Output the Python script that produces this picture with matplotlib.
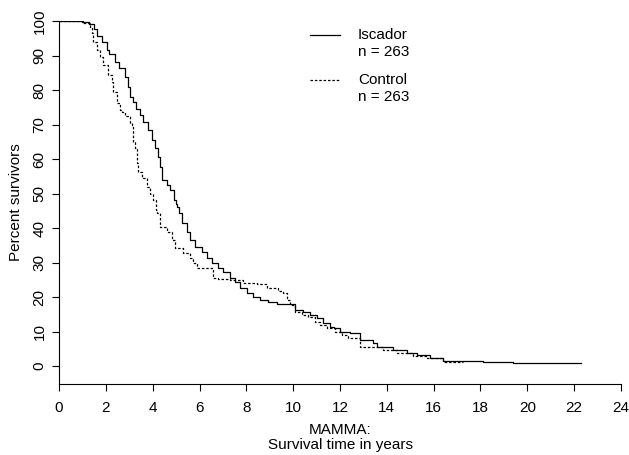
import matplotlib
matplotlib.use("Agg")
import matplotlib.pyplot as plt

plt.rcParams['font.family'] = ['Liberation Sans', 'DejaVu Sans']

# Kaplan-Meier Schätzwerte (Zeit in Jahren, Prozent Überlebende)
isc_t = [0, 1.0, 1.3, 1.5, 1.64, 1.82, 2.03, 2.15, 2.39, 2.58, 2.82, 2.96, 3.03,
         3.15, 3.3, 3.46, 3.6, 3.81, 3.96, 4.1, 4.24, 4.31, 4.38, 4.6, 4.74, 4.91,
         5.0, 5.05, 5.14, 5.24, 5.45, 5.59, 5.81, 6.09, 6.31, 6.52, 6.8, 7.02, 7.3,
         7.51, 7.73, 8.01, 8.3, 8.58, 8.94, 9.3, 10.08, 10.43, 10.72, 11.0, 11.29,
         11.57, 11.75, 12.0, 12.43, 12.85, 13.42, 13.57, 14.28, 14.85, 15.27, 15.84,
         16.41, 18.1, 19.4, 22.3]
isc_s = [100, 99.6, 99.2, 97.7, 95.6, 93.8, 91.6, 90.3, 88.2, 86.3, 83.9, 81.0, 78.0,
         76.5, 74.5, 72.8, 70.8, 68.4, 65.5, 63.1, 60.7, 57.8, 53.9, 52.5, 51.0, 48.1,
         47.1, 46.2, 44.3, 41.4, 38.9, 36.5, 34.6, 33.1, 31.2, 29.8, 28.3, 27.4, 25.4,
         24.5, 22.5, 21.1, 20.1, 19.1, 18.5, 18.0, 16.2, 15.7, 14.8, 13.8, 12.4,
         11.4, 10.9, 9.9, 9.5, 7.5, 6.8, 5.6, 4.6, 3.7, 3.2, 2.2,
         1.5, 1.1, 0.8, 0.8]

ctl_t = [0, 1.03, 1.32, 1.39, 1.47, 1.61, 1.75, 1.89, 2.1, 2.25, 2.32, 2.46, 2.6,
         2.68, 2.82, 3.03, 3.1, 3.14, 3.25, 3.32, 3.39, 3.53, 3.74, 3.89, 4.0, 4.14,
         4.2, 4.31, 4.6, 4.81, 4.95, 5.31, 5.59, 5.74, 5.88, 6.59, 6.8, 7.3, 7.87,
         8.44, 8.87, 9.36, 9.58, 9.72, 9.86, 10.08, 10.36, 10.64, 10.93, 11.14, 11.43,
         11.79, 12.07, 12.35, 12.85, 13.85, 14.42, 15.13, 15.7, 16.41, 17.25]
ctl_s = [100, 99.3, 97.9, 96.4, 94.0, 91.6, 89.6, 87.2, 84.3, 82.4, 79.5, 76.1, 74.2,
         73.7, 72.5, 70.3, 69.9, 65.0, 63.1, 58.8, 56.3, 54.4, 52.0, 50.0, 48.1, 45.2,
         44.3, 40.4, 38.9, 36.5, 34.1, 32.7, 31.2, 29.8, 28.5, 25.4, 25.2, 24.9, 24.2,
         23.7, 22.5, 21.7, 21.1, 19.1, 17.7, 15.7, 14.8, 14.3, 12.9, 11.9, 10.9,
         9.9, 9.0, 8.0, 5.6, 4.6, 3.7, 2.9, 2.2, 1.2, 1.2]

x_ticks = list(range(0, 25, 2))
y_ticks = list(range(0, 101, 10))

fig = plt.figure(figsize=(6.29, 4.55), dpi=100)
ax = fig.add_axes([59 / 629, 1 - 384 / 455, 562 / 629, 363 / 455])

ax.step(isc_t, isc_s, where='post', color='black', lw=0.9)
ax.step(ctl_t, ctl_s, where='post', color='black', lw=0.9, linestyle=(0, (2, 1.5)))

ax.set_xlim(0, 24)
ax.set_ylim(-5.2, 100)
ax.set_xticks(x_ticks)
ax.set_yticks(y_ticks)
ax.tick_params(direction='out', length=5, width=0.8, labelsize=11)
ax.tick_params(axis='x', pad=7)
ax.tick_params(axis='y', pad=4)
for lab in ax.get_yticklabels():
    lab.set_rotation(90)
    lab.set_va('center')
for s in ['top', 'right']:
    ax.spines[s].set_visible(False)
for s in ['left', 'bottom']:
    ax.spines[s].set_linewidth(0.8)

ax.set_ylabel('Percent survivors', fontsize=11, labelpad=7)
ax.set_xlabel('MAMMA:\nSurvival time in years', fontsize=11, labelpad=6, linespacing=1.1)

# Legende von Hand
ax.plot([0.447, 0.5], [0.961, 0.961], transform=ax.transAxes, color='black', lw=0.9)
ax.plot([0.447, 0.5], [0.837, 0.837], transform=ax.transAxes, color='black', lw=0.9,
        linestyle=(0, (2, 1.5)))
ax.text(0.532, 0.961, 'Iscador', transform=ax.transAxes, fontsize=11, va='center')
ax.text(0.532, 0.915, 'n = 263', transform=ax.transAxes, fontsize=11, va='center')
ax.text(0.532, 0.837, 'Control', transform=ax.transAxes, fontsize=11, va='center')
ax.text(0.532, 0.790, 'n = 263', transform=ax.transAxes, fontsize=11, va='center')

fig.savefig('out.png', dpi=100)
